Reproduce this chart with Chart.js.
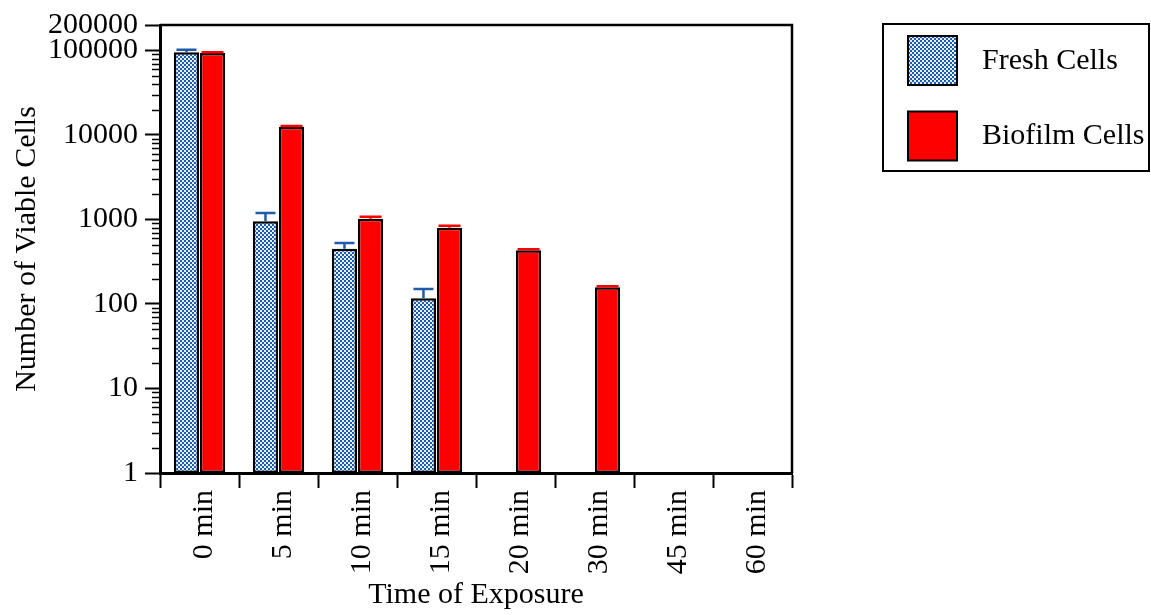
<!DOCTYPE html>
<html>
<head>
<meta charset="utf-8">
<script src="https://cdn.jsdelivr.net/npm/chart.js@4.4.0/dist/chart.umd.min.js"></script>
<style>
  html, body { margin: 0; padding: 0; background: #fff; }
  #myChart { display: block; }
</style>
</head>
<body>
<canvas id="myChart" width="1151" height="615"></canvas>
<script>
// data
const categories = ['0 min', '5 min', '10 min', '15 min', '20 min', '30 min', '45 min', '60 min'];
const freshValues = [95500, 950, 450, 117, null, null, null, null];
const freshErrors = [6500, 240, 75, 33, null, null, null, null];
const biofilmValues = [93000, 12500, 1020, 800, 432, 158, null, null];
const biofilmErrors = [2000, 300, 55, 45, 12, 4, null, null];
const yTickValues = [1, 10, 100, 1000, 10000, 100000, 200000];

const FONT = "'Liberation Serif', 'Times New Roman', serif";
Chart.defaults.font.family = FONT;
Chart.defaults.color = '#000';

function makeCheckerPattern() {
    const c = document.createElement('canvas');
    c.width = 4;
    c.height = 4;
    const g = c.getContext('2d');
    g.fillStyle = '#e4eef9';
    g.fillRect(0, 0, 4, 4);
    g.fillStyle = '#1f5cab';
    g.fillRect(0, 0, 2, 2);
    g.fillRect(2, 2, 2, 2);
    return g.createPattern(c, 'repeat');
}

const checker = makeCheckerPattern();

// error bars, minor log ticks, frame and the boxed legend
const extrasPlugin = {
    id: 'extras',
    afterDatasetsDraw(chart) {
        const ctx = chart.ctx;
        const y = chart.scales.y;
        chart.data.datasets.forEach((ds, i) => {
            const meta = chart.getDatasetMeta(i);
            meta.data.forEach((bar, j) => {
                const v = ds.data[j];
                const e = ds.errors[j];
                if (v == null || e == null) return;
                const yTop = y.getPixelForValue(v);
                const yErr = y.getPixelForValue(v + e);
                ctx.save();
                ctx.strokeStyle = ds.errorColor;
                ctx.lineWidth = 2.5;
                ctx.beginPath();
                ctx.moveTo(bar.x, yTop);
                ctx.lineTo(bar.x, yErr);
                ctx.moveTo(bar.x - ds.capWidth / 2, yErr);
                ctx.lineTo(bar.x + ds.capWidth / 2, yErr);
                ctx.stroke();
                ctx.restore();
            });
        });
    },
    afterDraw(chart) {
        const ctx = chart.ctx;
        const area = chart.chartArea;
        const y = chart.scales.y;

        ctx.save();
        ctx.strokeStyle = '#000';

        // minor ticks
        ctx.lineWidth = 1.5;
        ctx.beginPath();
        for (let d = 0; d < 5; d++) {
            for (let m = 2; m <= 9; m++) {
                const py = Math.round(y.getPixelForValue(m * Math.pow(10, d))) + 0.5;
                ctx.moveTo(area.left - 8, py);
                ctx.lineTo(area.left, py);
            }
        }
        ctx.stroke();

        // top and right frame
        ctx.lineWidth = 2.5;
        ctx.beginPath();
        ctx.moveTo(area.left, area.top);
        ctx.lineTo(area.right, area.top);
        ctx.lineTo(area.right, area.bottom);
        ctx.stroke();

        // legend
        const lx = 883, ly = 24, lw = 266, lh = 147;
        ctx.lineWidth = 2;
        ctx.strokeRect(lx, ly, lw, lh);
        ctx.font = '30px ' + FONT;
        ctx.textBaseline = 'middle';
        ctx.textAlign = 'left';
        chart.data.datasets.forEach((ds, i) => {
            const sy = 36 + i * 75.5;
            ctx.fillStyle = ds.backgroundColor;
            ctx.fillRect(908, sy, 49, 49);
            ctx.lineWidth = 2;
            ctx.strokeStyle = '#000';
            ctx.strokeRect(908, sy, 49, 49);
            ctx.fillStyle = '#000';
            ctx.fillText(ds.label, 982, sy + 25);
        });
        ctx.restore();
    }
};

const ctx = document.getElementById('myChart').getContext('2d');

new Chart(ctx, {
    type: 'bar',
    data: {
        labels: categories,
        datasets: [{
            label: 'Fresh Cells',
            data: freshValues,
            errors: freshErrors,
            errorColor: '#1f5cab',
            capWidth: 20,
            backgroundColor: checker,
            borderColor: '#000',
            borderWidth: 2.5,
            borderSkipped: false
        }, {
            label: 'Biofilm Cells',
            data: biofilmValues,
            errors: biofilmErrors,
            errorColor: '#ff0000',
            capWidth: 22,
            backgroundColor: '#ff0000',
            borderColor: '#000',
            borderWidth: 2.5,
            borderSkipped: false
        }]
    },
    options: {
        responsive: false,
        animation: false,
        devicePixelRatio: 1,
        categoryPercentage: 0.66,
        barPercentage: 0.97,
        layout: {
            padding: { top: 23, right: 359, bottom: 0, left: 0 }
        },
        plugins: {
            legend: { display: false },
            tooltip: { enabled: false }
        },
        scales: {
            x: {
                afterFit(scale) { scale.height = 142; },
                grid: {
                    offset: true,
                    drawOnChartArea: false,
                    tickLength: 15,
                    tickWidth: 2,
                    tickColor: '#000'
                },
                border: { color: '#000', width: 3 },
                ticks: {
                    minRotation: 90,
                    maxRotation: 90,
                    autoSkip: false,
                    padding: 2,
                    labelOffset: 5,
                    font: { size: 30 }
                },
                title: {
                    display: true,
                    text: 'Time of Exposure',
                    font: { size: 30 },
                    padding: { top: 0, bottom: 2 }
                }
            },
            y: {
                type: 'logarithmic',
                min: 1,
                max: 200000,
                afterFit(scale) { scale.width = 160; },
                afterBuildTicks(scale) {
                    scale.ticks = yTickValues.map(v => ({ value: v }));
                },
                grid: {
                    drawOnChartArea: false,
                    tickLength: 15,
                    tickWidth: 2,
                    tickColor: '#000'
                },
                border: { color: '#000', width: 3 },
                ticks: {
                    autoSkip: false,
                    padding: 7,
                    font: { size: 30 },
                    callback: (v) => String(v)
                },
                title: {
                    display: true,
                    text: 'Number of Viable Cells',
                    font: { size: 30 },
                    padding: { top: 9, bottom: 0 }
                }
            }
        }
    },
    plugins: [extrasPlugin]
});
</script>
</body>
</html>
